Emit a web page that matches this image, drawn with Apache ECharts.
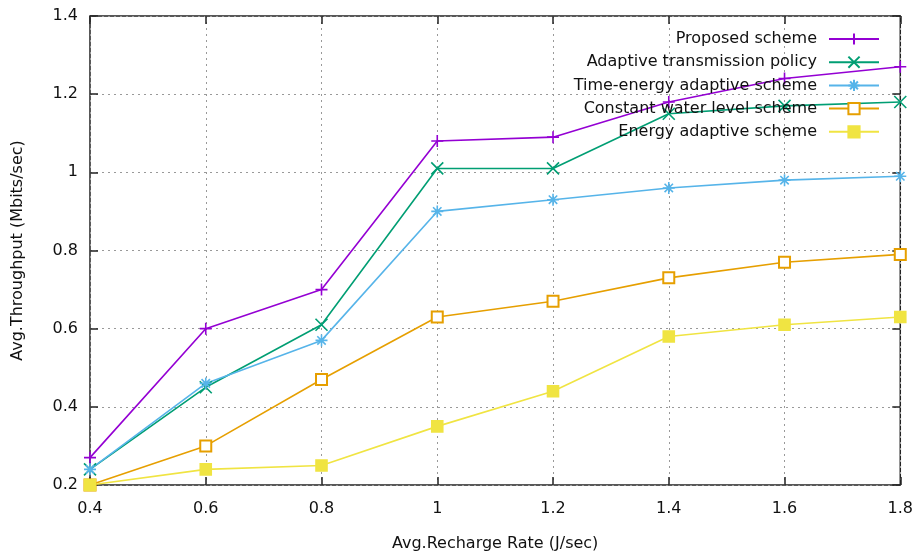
<!DOCTYPE html>
<html><head><meta charset="utf-8">
<script src="https://cdn.jsdelivr.net/npm/echarts@6/dist/echarts.min.js"></script>
<style>html,body{margin:0;padding:0;background:#fff}#c{width:916px;height:559px}</style>
</head><body><div id="c"></div>
<script>
const rates = [0.4, 0.6, 0.8, 1.0, 1.2, 1.4, 1.6, 1.8];
const seriesNames = ['Proposed scheme', 'Adaptive transmission policy', 'Time-energy adaptive scheme', 'Constant water level scheme', 'Energy adaptive scheme'];
const proposed = [0.27, 0.60, 0.70, 1.08, 1.09, 1.18, 1.24, 1.27];
const adaptive = [0.24, 0.45, 0.61, 1.01, 1.01, 1.15, 1.17, 1.18];
const timeEnergy = [0.24, 0.46, 0.57, 0.90, 0.93, 0.96, 0.98, 0.99];
const constantWater = [0.20, 0.30, 0.47, 0.63, 0.67, 0.73, 0.77, 0.79];
const energyAdaptive = [0.20, 0.24, 0.25, 0.35, 0.44, 0.58, 0.61, 0.63];

const allValues = [proposed, adaptive, timeEnergy, constantWater, energyAdaptive];
const colors = ['#9400d3', '#009e73', '#56b4e9', '#e69f00', '#f0e442'];
const symbols = [
  'path://M0,5L10,5M5,0L5,10',
  'path://M0,0L10,10M10,0L0,10',
  'path://M0,5L10,5M5,0L5,10M1.5,1.5L8.5,8.5M8.5,1.5L1.5,8.5',
  'emptyRect',
  'rect'
];
const sizes = [12, 12, 12, 11, 11];
const font = 'DejaVu Sans';
const fs = 16;
const fmt = v => String(+(+v).toFixed(1));

const series = seriesNames.map((n, i) => ({
  name: n, type: 'line',
  data: rates.map((x, j) => [x, allValues[i][j]]),
  symbol: symbols[i], symbolSize: sizes[i],
  lineStyle: { color: colors[i], width: 1.6 },
  itemStyle: { color: colors[i], borderColor: colors[i], borderWidth: 1.6 },
  emphasis: { disabled: true },
  animation: false,
  clip: false
}));

const chart = echarts.init(document.getElementById('c'));
chart.setOption({
  backgroundColor: '#fff',
  animation: false,
  grid: { left: 90, right: 11, top: 16, bottom: 74, show: true, borderColor: '#222', borderWidth: 1.5, backgroundColor: 'transparent' },
  legend: {
    orient: 'vertical', right: 31, top: 26, align: 'right',
    itemWidth: 50, itemHeight: 14, itemGap: 7.2,
    textStyle: { fontFamily: font, fontSize: fs, color: '#111', padding: [0, 7, 0, 0] },
    data: seriesNames
  },
  xAxis: [{
    type: 'value', min: 0.4, max: 1.8, interval: 0.2,
    name: 'Avg.Recharge Rate (J/sec)', nameLocation: 'middle', nameGap: 51,
    nameTextStyle: { fontFamily: font, fontSize: fs, color: '#111' },
    axisLine: { show: false },
    axisTick: { show: true, inside: true, length: 8, lineStyle: { color: '#222', width: 1.5 } },
    axisLabel: { formatter: fmt, fontFamily: font, fontSize: fs, color: '#111', margin: 16 },
    splitLine: { show: true, lineStyle: { type: [2, 4], color: '#999', width: 1 } }
  }, {
    type: 'value', min: 0.4, max: 1.8, interval: 0.2, position: 'top',
    axisLine: { show: false },
    axisTick: { show: true, inside: true, length: 8, lineStyle: { color: '#222', width: 1.5 } },
    axisLabel: { show: false }, splitLine: { show: false }
  }],
  yAxis: [{
    type: 'value', min: 0.2, max: 1.4, interval: 0.2,
    name: 'Avg.Throughput (Mbits/sec)', nameLocation: 'middle', nameGap: 64, nameRotate: 90,
    nameTextStyle: { fontFamily: font, fontSize: fs, color: '#111' },
    axisLine: { show: false },
    axisTick: { show: true, inside: true, length: 8, lineStyle: { color: '#222', width: 1.5 } },
    axisLabel: { formatter: fmt, fontFamily: font, fontSize: fs, color: '#111', margin: 12 },
    splitLine: { show: true, lineStyle: { type: [2, 4], color: '#999', width: 1 } }
  }, {
    type: 'value', min: 0.2, max: 1.4, interval: 0.2, position: 'right',
    axisLine: { show: false },
    axisTick: { show: true, inside: true, length: 8, lineStyle: { color: '#222', width: 1.5 } },
    axisLabel: { show: false }, splitLine: { show: false }
  }],
  series: series
});
</script></body></html>
